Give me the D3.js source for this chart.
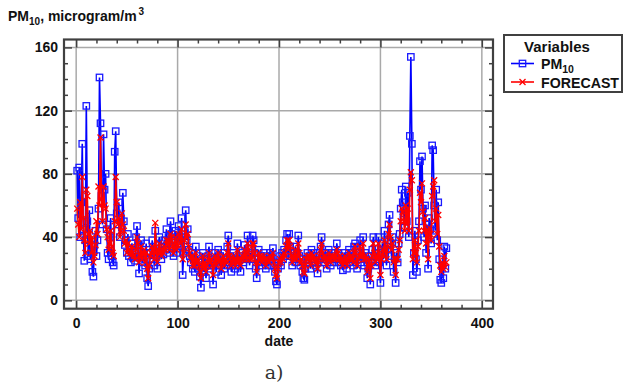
<!DOCTYPE html>
<html>
<head>
<meta charset="utf-8">
<script src="https://cdn.jsdelivr.net/npm/d3@7"></script>
<style>
  body { margin: 0; background: #fff; }
  svg { display: block; }
  text { font-family: "Liberation Sans", Arial, sans-serif; }
</style>
</head>
<body>
<div id="chart"></div>
<script>
// daily PM10 observations (day 1..365)
const pm10 = [
  82, 52, 84, 40, 62, 99, 45, 25, 38, 123,
  50, 28, 57, 26, 30, 18, 15, 35, 44, 28,
  38, 58, 141, 112, 66, 48, 105, 70, 80, 45,
  30, 26, 40, 52, 28, 24, 22, 94, 107, 55,
  48, 62, 40, 52, 46, 68, 50, 35, 38, 30,
  42, 28, 32, 24, 36, 27, 30, 25, 40, 47,
  35, 17, 28, 38, 24, 32, 30, 22, 36, 14,
  9, 20, 30, 26, 38, 32, 22, 44, 28, 20,
  35, 40, 30, 26, 34, 29, 38, 32, 45, 36,
  40, 30, 50, 42, 33, 28, 38, 44, 30, 36,
  47, 40, 35, 52, 16, 30, 44, 57, 38, 45,
  32, 28, 24, 30, 20, 26, 18, 34, 22, 28,
  20, 15, 8, 24, 30, 18, 26, 14, 22, 28,
  34, 20, 26, 22, 10, 24, 30, 18, 26, 32,
  22, 28, 16, 24, 30, 20, 26, 22, 34, 41,
  24, 28, 18, 22, 30, 26, 20, 24, 36, 22,
  28, 18, 26, 30, 24, 35, 28, 26, 41, 33,
  22, 30, 26, 41, 38, 30, 20, 14, 26, 32,
  24, 28, 22, 26, 30, 24, 20, 28, 25, 22,
  30, 26, 28, 33, 22, 18, 12, 10, 20, 24,
  28, 22, 30, 26, 32, 28, 38, 42, 30, 42,
  34, 28, 22, 30, 26, 34, 24, 30, 41, 28,
  22, 26, 18, 14, 13, 20, 26, 30, 24, 28,
  20, 32, 26, 30, 24, 22, 28, 17, 24, 30,
  34, 40, 28, 24, 30, 26, 20, 28, 32, 26,
  22, 30, 28, 24, 30, 26, 36, 30, 24, 28,
  22, 26, 19, 24, 30, 26, 20, 28, 32, 24,
  30, 26, 22, 34, 36, 28, 20, 26, 30, 38,
  24, 28, 40, 22, 30, 26, 14, 20, 28, 10,
  24, 32, 40, 28, 22, 30, 26, 40, 24, 11,
  30, 36, 26, 44, 32, 22, 38, 48, 54, 36,
  28, 40, 18, 26, 11, 30, 24, 36, 42, 58,
  70, 62, 55, 46, 72, 50, 68, 40, 104, 154,
  99, 16, 30, 44, 26, 18, 38, 50, 88, 70,
  91, 58, 40, 60, 30, 48, 20, 52, 45, 36,
  98, 95, 60, 44, 70, 38, 62, 26, 13, 11,
  22, 14, 34, 20, 33
];

// model forecast for the same days
const forecast = [
  58, 48, 40, 62, 45, 78, 52, 38, 30, 70,
  66, 42, 36, 44, 30, 40, 24, 28, 35, 50,
  42, 72, 60, 103, 64, 50, 72, 60, 58, 45,
  40, 32, 36, 44, 34, 30, 28, 50, 78, 62,
  48, 52, 40, 44, 55, 48, 44, 36, 38, 30,
  36, 32, 30, 28, 34, 30, 28, 26, 32, 40,
  36, 24, 28, 34, 26, 30, 32, 24, 30, 20,
  14, 22, 28, 30, 34, 32, 26, 49, 30, 24,
  32, 36, 30, 28, 32, 30, 34, 32, 38, 35,
  38, 32, 42, 40, 34, 30, 36, 40, 32, 35,
  42, 40, 36, 45, 26, 30, 38, 48, 40, 42,
  34, 30, 26, 28, 22, 26, 22, 30, 24, 26,
  22, 18, 14, 22, 28, 20, 24, 18, 22, 26,
  30, 24, 26, 22, 16, 24, 28, 22, 26, 30,
  24, 26, 20, 24, 28, 22, 26, 24, 30, 36,
  28, 26, 22, 24, 28, 26, 22, 24, 32, 24,
  26, 22, 26, 28, 26, 32, 28, 26, 36, 32,
  26, 28, 26, 36, 36, 30, 24, 18, 24, 30,
  26, 28, 24, 26, 28, 26, 22, 26, 25, 24,
  28, 26, 27, 30, 24, 20, 16, 14, 20, 24,
  26, 24, 28, 26, 30, 28, 34, 38, 32, 38,
  34, 28, 24, 28, 26, 32, 26, 28, 36, 30,
  24, 26, 22, 18, 17, 22, 26, 28, 26, 28,
  22, 30, 26, 28, 26, 24, 26, 20, 24, 28,
  32, 36, 30, 26, 28, 26, 22, 26, 30, 26,
  24, 28, 28, 26, 28, 26, 32, 30, 26, 28,
  24, 26, 22, 24, 28, 26, 22, 26, 30, 26,
  28, 26, 24, 30, 34, 30, 22, 26, 28, 34,
  28, 28, 36, 26, 28, 26, 18, 22, 26, 14,
  22, 28, 36, 30, 24, 28, 26, 36, 28, 16,
  26, 32, 28, 38, 32, 26, 34, 42, 48, 40,
  32, 36, 24, 26, 16, 26, 26, 32, 38, 50,
  58, 56, 50, 44, 60, 48, 58, 44, 70, 81,
  76, 26, 30, 38, 30, 24, 34, 44, 68, 62,
  74, 56, 44, 52, 36, 44, 26, 46, 42, 38,
  66, 72, 76, 50, 58, 42, 54, 34, 22, 18,
  24, 20, 28, 21, 24
];

const xTicks = [0, 100, 200, 300, 400];
const yTicks = [0, 40, 80, 120, 160];
const seriesNames = ['PM10', 'FORECAST'];

const W = 624, H = 384;
const frame = {left: 64, top: 39.5, right: 493, bottom: 308.7};
const frameColor = '#404040';
const gridColor = '#a9a9a9';

const svg = d3.select('#chart').append('svg')
    .attr('width', W).attr('height', H);

const x = d3.scaleLinear().domain([-12, 411]).range([frame.left, frame.right]);
const y = d3.scaleLinear().domain([-5.3, 165]).range([frame.bottom, frame.top]);

const xMinor = d3.range(20, 400, 20).filter(d => d % 100 !== 0);
const yMinor = d3.range(10, 160, 10).filter(d => d % 40 !== 0);

// grid
svg.append('g').selectAll('line').data(xTicks).enter().append('line')
    .attr('x1', d => x(d)).attr('x2', d => x(d))
    .attr('y1', frame.top).attr('y2', frame.bottom)
    .attr('stroke', gridColor).attr('stroke-width', 1.5);
svg.append('g').selectAll('line').data(yTicks).enter().append('line')
    .attr('y1', d => y(d)).attr('y2', d => y(d))
    .attr('x1', frame.left).attr('x2', frame.right)
    .attr('stroke', gridColor).attr('stroke-width', 1.5);

// axes, ticks pointing inward on all four sides
function styleAxis(g) {
    g.select('.domain').remove();
    g.selectAll('line').attr('stroke', frameColor).attr('stroke-width', 1.5);
    g.selectAll('text').attr('fill', '#111').attr('font-size', 14).attr('font-weight', 'bold')
        .style('font-family', '"Liberation Sans", Arial, sans-serif');
}

svg.append('g').attr('transform', 'translate(0,' + frame.bottom + ')')
    .call(d3.axisBottom(x).tickValues(xTicks).tickSize(-8).tickPadding(9)).call(styleAxis);
svg.append('g').attr('transform', 'translate(0,' + frame.bottom + ')')
    .call(d3.axisBottom(x).tickValues(xMinor).tickSize(-4).tickFormat('')).call(styleAxis);
svg.append('g').attr('transform', 'translate(0,' + frame.top + ')')
    .call(d3.axisTop(x).tickValues(xTicks).tickSize(-8).tickFormat('')).call(styleAxis);
svg.append('g').attr('transform', 'translate(0,' + frame.top + ')')
    .call(d3.axisTop(x).tickValues(xMinor).tickSize(-4).tickFormat('')).call(styleAxis);

svg.append('g').attr('transform', 'translate(' + frame.left + ',0)')
    .call(d3.axisLeft(y).tickValues(yTicks).tickSize(-8).tickPadding(6)).call(styleAxis);
svg.append('g').attr('transform', 'translate(' + frame.left + ',0)')
    .call(d3.axisLeft(y).tickValues(yMinor).tickSize(-4).tickFormat('')).call(styleAxis);
svg.append('g').attr('transform', 'translate(' + frame.right + ',0)')
    .call(d3.axisRight(y).tickValues(yTicks).tickSize(-8).tickFormat('')).call(styleAxis);
svg.append('g').attr('transform', 'translate(' + frame.right + ',0)')
    .call(d3.axisRight(y).tickValues(yMinor).tickSize(-4).tickFormat('')).call(styleAxis);

// series
const pmData = pm10.map((v, i) => ({day: i + 1, value: v}));
const fcData = forecast.map((v, i) => ({day: i + 1, value: v}));

const line = d3.line().x(d => x(d.day)).y(d => y(d.value));
const plot = svg.append('g');

plot.append('path').datum(pmData)
    .attr('d', line).attr('fill', 'none')
    .attr('stroke', '#0000ff').attr('stroke-width', 1.6);
plot.append('g').selectAll('rect').data(pmData).enter().append('rect')
    .attr('x', d => x(d.day) - 3.2).attr('y', d => y(d.value) - 3.2)
    .attr('width', 6.4).attr('height', 6.4)
    .attr('fill', 'none').attr('stroke', '#1a1aff').attr('stroke-width', 1.3);

plot.append('path').datum(fcData)
    .attr('d', line).attr('fill', 'none')
    .attr('stroke', '#ff0000').attr('stroke-width', 1.6);
plot.append('g').selectAll('path').data(fcData).enter().append('path')
    .attr('d', d => {
        const cx = x(d.day), cy = y(d.value), s = 3;
        return 'M' + (cx - s) + ',' + (cy - s) + 'L' + (cx + s) + ',' + (cy + s) +
               'M' + (cx - s) + ',' + (cy + s) + 'L' + (cx + s) + ',' + (cy - s);
    })
    .attr('stroke', '#ff0000').attr('stroke-width', 1.3);

// frame
svg.append('rect')
    .attr('x', frame.left).attr('y', frame.top)
    .attr('width', frame.right - frame.left).attr('height', frame.bottom - frame.top)
    .attr('fill', 'none').attr('stroke', frameColor).attr('stroke-width', 2.2);

// titles
const title = svg.append('text').attr('x', 8).attr('y', 21)
    .attr('font-size', 14).attr('font-weight', 'bold').attr('fill', '#111');
title.append('tspan').text('PM');
title.append('tspan').attr('font-size', 10).attr('dy', 4).text('10');
title.append('tspan').attr('dy', -4).text(', microgram/m');
title.append('tspan').attr('font-size', 10).attr('dy', -6).attr('dx', 2).text('3');

svg.append('text').attr('x', x(200)).attr('y', 346)
    .attr('text-anchor', 'middle').attr('font-size', 14).attr('font-weight', 'bold')
    .attr('fill', '#111').text('date');

svg.append('text').attr('x', 274).attr('y', 379)
    .attr('text-anchor', 'middle').attr('font-size', 19).attr('fill', '#333')
    .style('font-family', '"DejaVu Serif", "Liberation Serif", serif')
    .text('a)');

// legend
const legend = svg.append('g').attr('transform', 'translate(504,35)');
legend.append('rect').attr('width', 118).attr('height', 57)
    .attr('fill', '#fff').attr('stroke', frameColor).attr('stroke-width', 2);
legend.append('text').attr('x', 53).attr('y', 16.5)
    .attr('text-anchor', 'middle').attr('font-size', 15).attr('font-weight', 'bold')
    .attr('fill', '#111').text('Variables');

const legendColors = ['#0000ff', '#ff0000'];
seriesNames.forEach((name, i) => {
    const ly = 28.5 + i * 18.5;
    const row = legend.append('g').attr('transform', 'translate(0,' + ly + ')');
    row.append('line').attr('x1', 7).attr('x2', 30)
        .attr('stroke', legendColors[i]).attr('stroke-width', 1.6);
    if (i === 0) {
        row.append('rect').attr('x', 15.3).attr('y', -3.2).attr('width', 6.4).attr('height', 6.4)
            .attr('fill', 'none').attr('stroke', '#1a1aff').attr('stroke-width', 1.3);
    } else {
        row.append('path').attr('d', 'M15.5,-3L21.5,3M15.5,3L21.5,-3')
            .attr('stroke', '#ff0000').attr('stroke-width', 1.3);
    }
    const t = row.append('text').attr('x', 37).attr('y', 5.5)
        .attr('font-size', 14.2).attr('font-weight', 'bold').attr('fill', '#111');
    if (name === 'PM10') {
        t.append('tspan').text('PM');
        t.append('tspan').attr('font-size', 10.5).attr('dy', 4).text('10');
    } else {
        t.text(name);
    }
});
</script>
</body>
</html>
